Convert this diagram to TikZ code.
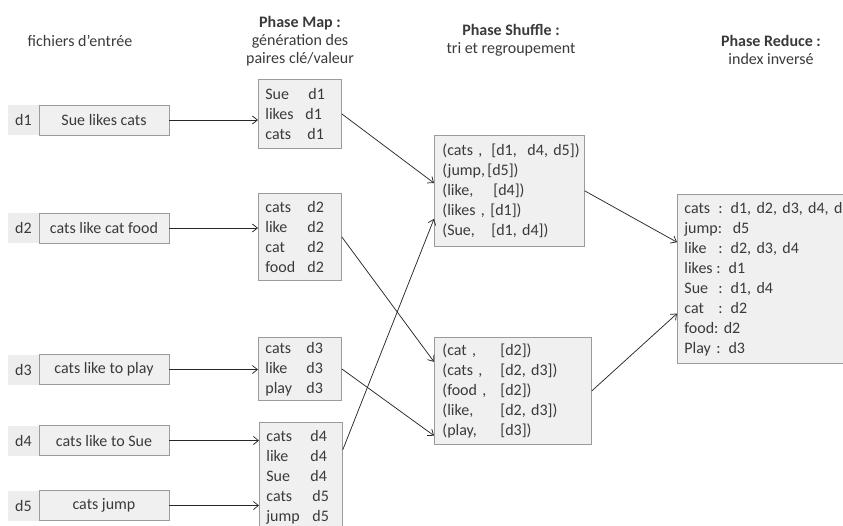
\documentclass[tikz,border=0pt]{standalone}
\usepackage{fontspec}
\setmainfont{Carlito}
\usetikzlibrary{arrows.meta,calc}
\definecolor{boxfill}{RGB}{240,240,241}
\definecolor{boxline}{RGB}{155,155,155}
\definecolor{lblfill}{RGB}{237,237,237}
\definecolor{txt}{RGB}{58,58,58}
\definecolor{arrowc}{RGB}{40,40,40}
\tikzset{
  base/.style={font=\fontsize{16}{20}\selectfont, text=txt},
  hdr/.style={font=\fontsize{16}{18}\selectfont, text=txt, align=center, inner sep=0pt},
  inbox/.style={base, draw=boxline, fill=boxfill, line width=0.8pt, minimum width=130pt, minimum height=30pt, inner sep=0pt},
  lbl/.style={base, fill=lblfill, minimum width=31pt, minimum height=30pt, inner sep=0pt},
  kvbox/.style={base, draw=boxline, fill=boxfill, line width=0.8pt, align=left, inner xsep=7pt, inner ysep=0pt, anchor=north west},
  arr/.style={draw=arrowc, line width=0.75pt, -{Straight Barb[length=5pt,width=8pt]}}
}
\newcommand{\kv}[3]{\mbox{\makebox[#1][l]{#2}#3}}
\begin{document}
\begin{tikzpicture}[x=1pt,y=-1pt]
\useasboundingbox (0,0) rectangle (843,525);
\clip (0,0) rectangle (843,525);
% headers
\node[hdr] (h0) at (80,41) {fichiers d’entrée};
\node[hdr] (h1) at (300,41) {\textbf{Phase Map :}\\génération des\\paires clé/valeur};
\node[hdr] (h2) at (511,40) {\textbf{Phase Shuffle :}\\tri et regroupement};
\node[hdr] (h3) at (771,50) {\textbf{Phase Reduce :}\\index inversé};
% inputs
\node[lbl] (l1) at (23.5,120) {d1};
\node[inbox] (i1) at (104,120) {Sue likes cats};
\node[lbl] (l2) at (23.5,228) {d2};
\node[inbox] (i2) at (104,228) {cats like cat food};
\node[lbl] (l3) at (23.5,369.5) {d3};
\node[inbox] (i3) at (104,369.5) {cats like to play};
\node[lbl] (l4) at (23.5,440.5) {d4};
\node[inbox] (i4) at (104,440.5) {cats like to Sue};
\node[lbl] (l5) at (23.5,505.5) {d5};
\node[inbox] (i5) at (104,505.5) {cats jump};
% map
\node[kvbox, text width=69pt, minimum height=69pt] (m1) at (258,79)
  {\kv{43pt}{Sue}{d1}\\\kv{40pt}{likes}{d1}\\\kv{42pt}{cats}{d1}};
\node[kvbox, text width=69pt, minimum height=87pt] (m2) at (258,193)
  {\kv{42pt}{cats}{d2}\\\kv{42pt}{like}{d2}\\\kv{42pt}{cat}{d2}\\\kv{42pt}{food}{d2}};
\node[kvbox, text width=69pt, minimum height=63pt] (m3) at (258,337)
  {\kv{41pt}{cats}{d3}\\\kv{41pt}{like}{d3}\\\kv{41pt}{play}{d3}};
\node[kvbox, text width=69pt, minimum height=110pt] (m4) at (259,422)
  {\kv{44pt}{cats}{d4}\\\kv{44pt}{like}{d4}\\\kv{44pt}{Sue}{d4}\\\kv{46pt}{cats}{d5}\\\kv{46pt}{jump}{d5}};
% shuffle
\node[kvbox, inner xsep=8pt, text width=134pt, minimum height=111pt] (s1) at (434,135)
  {\kv{49pt}{(cats ,}{[d1,\ \ d4, d5])}\\\kv{45pt}{(jump,}{[d5])}\\\kv{51pt}{(like,}{[d4])}\\\kv{48pt}{(likes ,}{[d1])}\\\kv{49pt}{(Sue,}{[d1, d4])}};
\node[kvbox, inner xsep=8pt, text width=141pt, minimum height=107pt] (s2) at (434,337)
  {\kv{58pt}{(cat ,}{[d2])}\\\kv{58pt}{(cats ,}{[d2, d3])}\\\kv{58pt}{(food ,}{[d2])}\\\kv{58pt}{(like,}{[d2, d3])}\\\kv{58pt}{(play,}{[d3])}};
% reduce
\node[kvbox, text width=200pt, minimum height=169pt] (r) at (677,194)
  {\kv{34pt}{cats}{: d1, d2, d3, d4, d5}\\\mbox{jump:\ \ d5}\\\kv{34pt}{like}{: d2, d3, d4}\\\kv{32pt}{likes}{: d1}\\\kv{34pt}{Sue}{: d1, d4}\\\kv{34pt}{cat}{: d2}\\\mbox{food:\ d2}\\\mbox{Play : d3}};
% connectors
\draw[arr] (i1.east) -- (i1.east -| m1.west);
\draw[arr] (i2.east) -- (i2.east -| m2.west);
\draw[arr] (i3.east) -- (i3.east -| m3.west);
\draw[arr] (i4.east) -- (i4.east -| m4.west);
\draw[arr] (i5.east) -- (i5.east -| m4.west);
\draw[arr] (m1.east) -- ($(s1.north west)!0.43!(s1.south west)$);
\draw[arr] (m2.east) -- ($(s2.north west)!0.23!(s2.south west)$);
\draw[arr] ($(m4.north east)!0.25!(m4.south east)$) -- ($(s1.north west)!0.75!(s1.south west)$);
\draw[arr] (m3.east) -- ($(s2.north west)!0.915!(s2.south west)$);
\draw[arr] (s1.east) -- ($(r.north west)!0.284!(r.south west)$);
\draw[arr] (s2.east) -- ($(r.north west)!0.704!(r.south west)$);
\end{tikzpicture}
\end{document}
